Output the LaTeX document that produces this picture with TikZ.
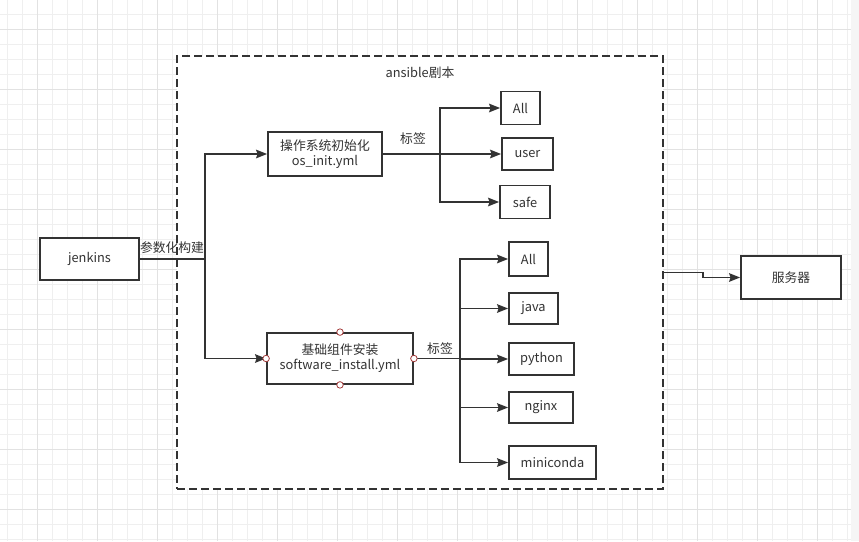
\documentclass[tikz,border=0pt]{standalone}
\usepackage{fontspec}
\setmainfont{Noto Sans CJK SC}
\usetikzlibrary{arrows.meta}
\definecolor{lc}{HTML}{333333}
\definecolor{gminor}{HTML}{EFEFEF}
\definecolor{gmajor}{HTML}{E2E2E2}
\definecolor{pt}{HTML}{A33A3A}
\newcommand{\dfs}{\fontsize{12.8}{15}\selectfont}
\begin{document}
\begin{tikzpicture}[x=1pt,y=-1pt,
  box/.style={draw=lc,line width=1.8pt,fill=white,inner sep=0pt,align=center,font=\dfs,text=lc},
  lbl/.style={inner sep=0pt,font=\dfs,text=lc},
  wire/.style={draw=lc,line width=1.8pt},
  arr/.style={wire,-{Stealth[length=11pt,width=8.5pt,inset=1.5pt]}},
  cpt/.style={circle,draw=pt,fill=white,line width=0.8pt,minimum size=6.5pt,inner sep=0pt}]
\useasboundingbox (0,0) rectangle (859,541);
\fill[white] (0,0) rectangle (859,541);
% grid
\foreach \i in {0,...,57} {\draw[gminor,line width=0.7pt] ({7.5+15*\i},0) -- ({7.5+15*\i},541);}
\foreach \i in {0,...,36} {\draw[gminor,line width=0.7pt] (0,{14.5+15*\i}) -- (859,{14.5+15*\i});}
\foreach \i in {0,...,14} {\draw[gmajor,line width=0.7pt] ({37.5+60*\i},0) -- ({37.5+60*\i},541);}
\foreach \i in {0,...,9} {\draw[gmajor,line width=0.7pt] (0,{29.5+60*\i}) -- (859,{29.5+60*\i});}
\fill[gminor!60] (851,0) rectangle (859,541);

% container
\node[draw=lc,line width=1.8pt,fill=white,dash pattern=on 8pt off 4pt,minimum width=486pt,minimum height=433pt,inner sep=0pt] (cont) at (420,272.5) {};
\node[lbl] (contlbl) at (420,73) {ansible剧本};

% nodes
\node[box,minimum width=99pt,minimum height=42pt] (jenkins) at (89.5,259) {jenkins};
\node[box,minimum width=114pt,minimum height=44pt] (os) at (325,154) {操作系统初始化\\os\_init.yml};
\node[box,minimum width=146pt,minimum height=51pt] (sw) at (340,358.5) {基础组件安装\\software\_install.yml};
\node[box,minimum width=100pt,minimum height=43pt] (srv) at (791,277.5) {服务器};

\node[box,minimum width=39pt,minimum height=33pt] (all1) at (520.5,108) {All};
\node[box,minimum width=51pt,minimum height=32pt] (user) at (527.5,154) {user};
\node[box,minimum width=50pt,minimum height=33pt] (safe) at (525,202) {safe};

\node[box,minimum width=39pt,minimum height=34pt] (all2) at (528.5,259) {All};
\node[box,minimum width=49pt,minimum height=31pt] (java) at (533.5,308.5) {java};
\node[box,minimum width=65pt,minimum height=32pt] (python) at (541.5,359) {python};
\node[box,minimum width=64pt,minimum height=31pt] (nginx) at (541,407.5) {nginx};
\node[box,minimum width=87pt,minimum height=33pt] (mini) at (552.5,462.5) {miniconda};

% connectors
\coordinate (b1) at (205,259);
\draw[wire] (jenkins.east) -- (b1);
\draw[arr] (b1) |- (os.west);
\draw[arr] (b1) |- (sw.west);
\node[lbl,anchor=south] (plbl) at (172,254) {参数化构建};

\coordinate (b2) at (440,154);
\draw[wire] (os.east) -- (b2);
\draw[arr] (b2) |- (all1.west);
\draw[arr] (b2) -- (user.west);
\draw[arr] (b2) |- (safe.west);
\node[lbl] (t1) at (413,139) {标签};

\coordinate (b3) at (460,358.5);
\draw[wire] (sw.east) -- (b3);
\draw[arr] (b3) |- (all2.west);
\draw[arr] (b3) |- (java.west);
\draw[arr] (b3) |- (python.west);
\draw[arr] (b3) |- (nginx.west);
\draw[arr] (b3) |- (mini.west);
\node[lbl] (t2) at (440,349) {标签};

\draw[arr] (cont.east) -- ++(39,0) |- (srv.west);

% connection points
\node[cpt] (p1) at (sw.west) {};
\node[cpt] (p2) at (sw.east) {};
\node[cpt] (p3) at (sw.north) {};
\node[cpt] (p4) at (sw.south) {};
\end{tikzpicture}
\end{document}
